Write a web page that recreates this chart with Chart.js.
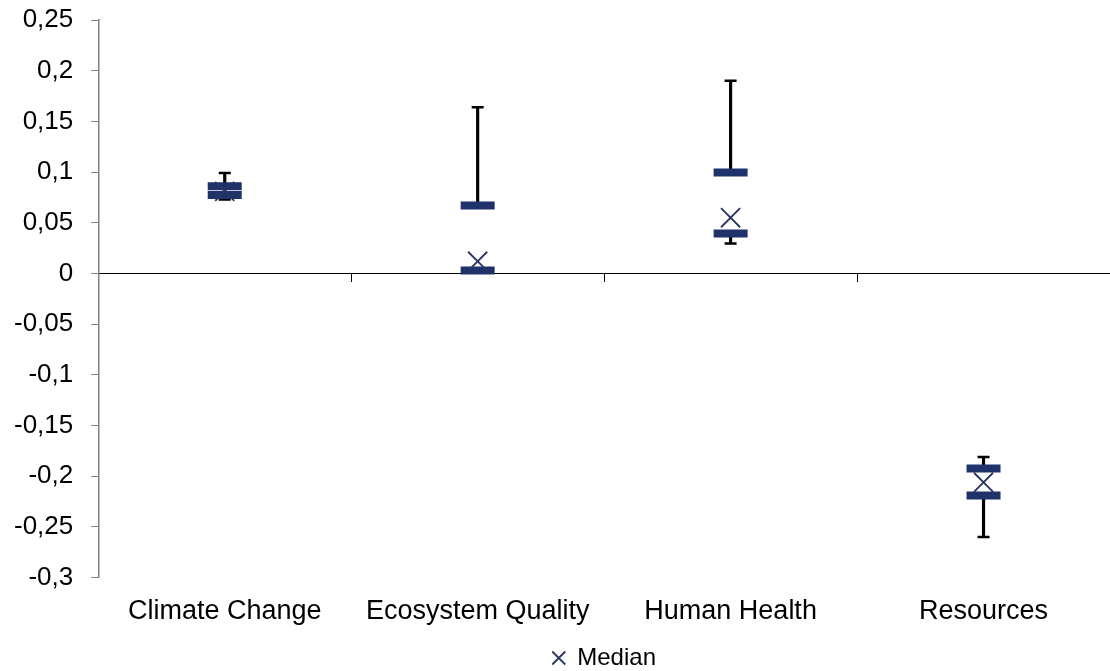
<!DOCTYPE html>
<html>
<head>
<meta charset="utf-8">
<script src="https://cdn.jsdelivr.net/npm/chart.js@4/dist/chart.umd.min.js"></script>
<style>
  body { margin: 0; background: #fff; }
  #wrap { width: 1110px; height: 671px; }
</style>
</head>
<body>
<div id="wrap"><canvas id="boxChart" width="1110" height="671"></canvas></div>
<script>
const categories = ["Climate Change", "Ecosystem Quality", "Human Health", "Resources"];
const maxValues = [0.099, 0.164, 0.19, -0.181];
const q3Values = [0.086, 0.067, 0.0995, -0.1925];
const medianValues = [0.081, 0.012, 0.055, -0.206];
const q1Values = [0.0775, 0.003, 0.0395, -0.219];
const minValues = [0.073, 0.001, 0.0295, -0.26];
const yTicks = { min: -0.3, max: 0.25, step: 0.05 };

const navy = "#1f3269";
const fontFamily = "'Liberation Sans', Arial, sans-serif";

// whiskers run from the box out to the extremes
const upperWhisker = categories.map((c, i) => [q3Values[i], maxValues[i]]);
const lowerWhisker = categories.map((c, i) => [minValues[i], q1Values[i]]);

function pointSet(label, values, opts) {
  return Object.assign({
    type: "line",
    label: label,
    data: values,
    showLine: false,
    pointHoverRadius: 0,
  }, opts);
}

// drop the extra room chart.js keeps for overhanging labels
function noScalePadding(scale) {
  scale.paddingLeft = 0;
  scale.paddingRight = 0;
  scale.paddingTop = 0;
  scale.paddingBottom = 0;
}

const chart = new Chart(document.getElementById("boxChart"), {
  type: "bar",
  data: {
    labels: categories,
    datasets: [
      {
        label: "upper",
        data: upperWhisker,
        backgroundColor: "#000",
        barThickness: 2.5,
        grouped: false,
        order: 4,
      },
      {
        label: "lower",
        data: lowerWhisker,
        backgroundColor: "#000",
        barThickness: 2.5,
        grouped: false,
        order: 4,
      },
      pointSet("max", maxValues, {
        pointStyle: "line", pointRadius: 6, pointBorderWidth: 2.5,
        borderColor: "#000", pointBorderColor: "#000", order: 3,
      }),
      pointSet("min", minValues, {
        pointStyle: "line", pointRadius: 6, pointBorderWidth: 2.5,
        borderColor: "#000", pointBorderColor: "#000", order: 3,
      }),
      pointSet("q3", q3Values, {
        pointStyle: "line", pointRadius: 17, pointBorderWidth: 8,
        borderColor: navy, pointBorderColor: navy, order: 2,
      }),
      pointSet("q1", q1Values, {
        pointStyle: "line", pointRadius: 17, pointBorderWidth: 8,
        borderColor: navy, pointBorderColor: navy, order: 2,
      }),
      pointSet("Median", medianValues, {
        pointStyle: "crossRot", pointRadius: 13.5, pointBorderWidth: 1.8,
        borderColor: "#2a3560", pointBorderColor: "#2a3560", borderWidth: 1.8, order: 1,
      }),
    ],
  },
  options: {
    responsive: false,
    animation: false,
    events: [],
    layout: { autoPadding: false, padding: { left: -4, top: 20, right: 0, bottom: -9 } },
    scales: {
      x: {
        afterFit: noScalePadding,
        grid: { display: false, drawTicks: false },
        border: { display: false },
        ticks: { color: "#000", font: { family: fontFamily, size: 27 }, padding: 18, maxRotation: 0 },
      },
      x2: {
        type: "category",
        labels: categories,
        position: { y: 0 },
        offset: true,
        afterFit: noScalePadding,
        ticks: { display: false },
        grid: { offset: true, drawOnChartArea: false, tickLength: 8, color: "#000" },
        border: { color: "#000", width: 1 },
      },
      y: {
        min: yTicks.min,
        max: yTicks.max,
        afterFit: noScalePadding,
        grid: { drawOnChartArea: false, tickLength: 7, color: "#808080" },
        border: { color: "#808080", width: 1.5 },
        ticks: {
          stepSize: yTicks.step,
          color: "#000",
          padding: 18,
          font: { family: fontFamily, size: 26 },
          callback: (v) => String(Math.round(v * 100) / 100).replace(".", ","),
        },
      },
    },
    plugins: {
      tooltip: { enabled: false },
      legend: {
        position: "bottom",
        fullSize: false,
        labels: {
          usePointStyle: true,
          boxHeight: 13,
          boxWidth: 13,
          padding: 0,
          color: "#000",
          font: { family: fontFamily, size: 24 },
          filter: (item) => item.text === "Median",
        },
      },
    },
  },
});
</script>
</body>
</html>
